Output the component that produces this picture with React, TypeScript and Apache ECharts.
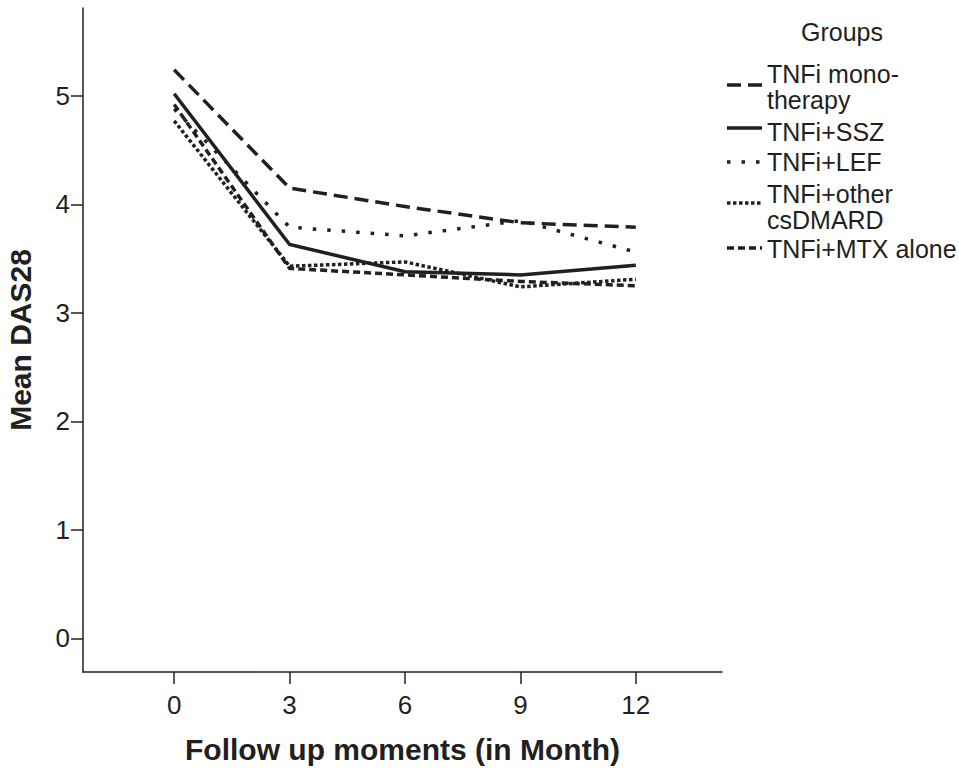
import React, { useEffect, useRef } from "react";
import * as echarts from "echarts";

const months = [0, 3, 6, 9, 12];
const yTicks = [0, 1, 2, 3, 4, 5];
const groupNames = ["TNFi mono-\ntherapy", "TNFi+SSZ", "TNFi+LEF", "TNFi+other\ncsDMARD", "TNFi+MTX alone"];
const mono = [5.24, 4.15, 3.98, 3.83, 3.79];
const ssz = [5.02, 3.63, 3.38, 3.35, 3.44];
const lef = [4.88, 3.79, 3.71, 3.85, 3.56];
const other = [4.77, 3.43, 3.47, 3.24, 3.31];
const mtx = [4.92, 3.41, 3.35, 3.29, 3.25];

const seriesValues = [mono, ssz, lef, other, mtx];
const dashes: (number[] | "solid")[] = [[14, 7], "solid", [3.5, 11], [3.5, 2.5], [7, 4]];

const FONT = "'Liberation Sans', Arial, Helvetica, sans-serif";
const INK = "#231f20";

export default function App() {
  const ref = useRef<HTMLDivElement>(null);
  useEffect(() => {
    if (!ref.current) return;
    const chart = echarts.init(ref.current, undefined, { renderer: "svg" });
    const legendY = [85, 128, 162, 203, 248];
    const textY = [88, 133, 163, 208, 250];
    const graphic: any[] = [
      {
        type: "text",
        left: 801,
        top: 19,
        style: { text: "Groups", font: `25px ${FONT}`, fill: INK },
      },
    ];
    groupNames.forEach((name, i) => {
      const d = dashes[i];
      graphic.push({
        type: "line",
        shape: { x1: 727, y1: legendY[i], x2: 762, y2: legendY[i] },
        style: {
          stroke: INK,
          lineWidth: 3.5,
          lineDash: d === "solid" ? null : d,
          lineCap: "butt",
        },
      });
      const lines = name.split("\n").length;
      graphic.push({
        type: "text",
        x: 767,
        y: lines > 1 ? textY[i] - 27 : textY[i] - 14,
        style: {
          text: name,
          font: `25px ${FONT}`,
          fill: INK,
          lineHeight: 26,
          verticalAlign: "top",
        },
      });
    });

    chart.setOption({
      animation: false,
      grid: { left: 83, top: 8, right: 237, bottom: 96, containLabel: false, outerBoundsMode: "none" },
      xAxis: {
        type: "value",
        min: -2.37,
        max: 14.24,
        name: "Follow up moments (in Month)",
        nameLocation: "middle",
        nameGap: 62,
        nameTextStyle: { fontFamily: FONT, fontWeight: "bold", fontSize: 30, color: INK },
        axisLine: { show: true, onZero: false, lineStyle: { color: INK, width: 1.5 } },
        axisTick: { show: true, length: 12, customValues: months, lineStyle: { color: INK, width: 1.5 } },
        axisLabel: { customValues: months, fontFamily: FONT, fontSize: 26, color: INK, margin: 20 },
        splitLine: { show: false },
      },
      yAxis: {
        type: "value",
        min: -0.31,
        max: 5.81,
        name: "Mean DAS28",
        nameLocation: "middle",
        nameRotate: 90,
        nameGap: 48,
        nameTextStyle: { fontFamily: FONT, fontWeight: "bold", fontSize: 30, color: INK },
        axisLine: { show: true, onZero: false, lineStyle: { color: INK, width: 1.5 } },
        axisTick: { show: true, length: 12, customValues: yTicks, lineStyle: { color: INK, width: 1.5 } },
        axisLabel: { customValues: yTicks, fontFamily: FONT, fontSize: 26, color: INK, margin: 13 },
        splitLine: { show: false },
      },
      graphic,
      series: seriesValues.map((vals, i) => ({
        type: "line",
        name: groupNames[i],
        data: months.map((m, j) => [m, vals[j]]),
        showSymbol: false,
        symbol: "none",
        lineStyle: {
          color: INK,
          width: 3.5,
          type: dashes[i],
          cap: "butt",
          join: "miter",
        },
      })),
    });
    return () => chart.dispose();
  }, []);
  return (
    <div
      ref={ref}
      style={{ position: "absolute", left: 0, top: 0, width: 959, height: 768, background: "#fff" }}
    />
  );
}
